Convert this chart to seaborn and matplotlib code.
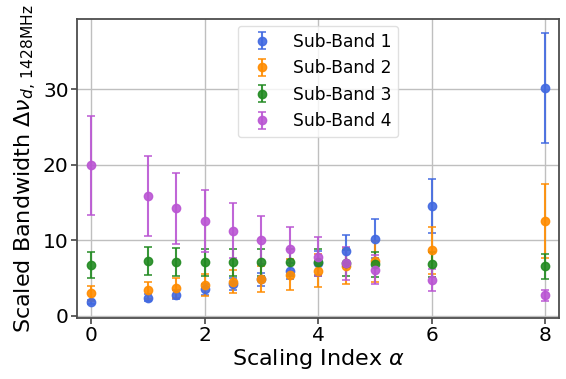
import matplotlib
matplotlib.use("Agg")
import matplotlib.pyplot as plt
import seaborn as sns
import numpy as np
import pandas as pd

alpha_idx = [0, 1, 1.5, 2, 2.5, 3, 3.5, 4, 4.5, 5, 6, 8]

sb1 = [1.8, 2.4, 2.8, 3.5, 4.15, 4.8, 5.9, 7.0, 8.55, 10.2, 14.5, 30.2]
sb1_err = [0.3, 0.5, 0.65, 0.7, 0.8, 0.9, 1.1, 1.6, 2.15, 2.6, 3.6, 7.3]

sb2 = [2.95, 3.35, 3.7, 4.1, 4.5, 4.9, 5.45, 5.95, 6.6, 7.2, 8.65, 12.55]
sb2_err = [1.0, 1.1, 1.3, 1.45, 1.5, 1.7, 2.0, 2.2, 2.4, 2.7, 3.15, 4.85]

sb3 = [6.7, 7.2, 7.1, 7.1, 7.05, 7.1, 7.05, 7.1, 6.95, 6.8, 6.8, 6.55]
sb3_err = [1.7, 1.85, 1.85, 1.8, 1.8, 1.8, 1.8, 1.8, 1.75, 1.7, 1.7, 1.65]

sb4 = [19.9, 15.9, 14.2, 12.6, 11.25, 10.0, 8.8, 7.8, 6.95, 6.1, 4.75, 2.7]
sb4_err = [6.6, 5.3, 4.65, 4.1, 3.65, 3.2, 2.9, 2.6, 2.2, 1.95, 1.46, 0.75]

labels = ["Sub-Band 1", "Sub-Band 2", "Sub-Band 3", "Sub-Band 4"]
colors = ["royalblue", "darkorange", "forestgreen", "mediumorchid"]

sns.set_theme(style="whitegrid")
plt.rcParams.update({
    "font.family": ["DejaVu Sans"],
    "axes.edgecolor": "0.3",
    "axes.linewidth": 1.3,
    "grid.color": "0.75",
    "grid.linewidth": 1.0,
    "xtick.bottom": True,
    "ytick.left": True,
    "xtick.color": "0.3",
    "ytick.color": "0.3",
    "xtick.labelcolor": "black",
    "ytick.labelcolor": "black",
    "xtick.major.size": 4,
    "ytick.major.size": 4,
})

fig = plt.figure(figsize=(5.66, 3.79), dpi=100)
ax = fig.add_axes([0.136, 0.161, 0.852, 0.789])

series = [(sb1, sb1_err), (sb2, sb2_err), (sb3, sb3_err), (sb4, sb4_err)]
for (vals, errs), lab, col in zip(series, labels, colors):
    df = pd.DataFrame({"alpha": alpha_idx, "val": vals, "err": errs})
    ax.errorbar(df["alpha"], df["val"], yerr=df["err"], fmt="o", color=col,
                ecolor=col, elinewidth=1.5, capsize=3, capthick=1.2,
                markersize=6, label=lab, alpha=0.9)

ax.set_xlim(-0.25, 8.25)
ax.set_xticks([0, 2, 4, 6, 8])
ax.set_yticks([0, 10, 20, 30])
ax.tick_params(labelsize=14.5, pad=2)
ax.set_xlabel(r"Scaling Index $\alpha$", fontsize=16, labelpad=1, color="black")
ax.set_ylabel(r"Scaled Bandwidth $\Delta\nu_{d,\,1428\mathrm{MHz}}$",
              fontsize=16, labelpad=3, color="black")
leg = ax.legend(loc="upper center", fontsize=12.3, frameon=True,
                borderaxespad=0.4)
leg.get_frame().set_edgecolor("0.85")
for t in leg.get_texts():
    t.set_color("black")

fig.savefig("out.png", dpi=100)
